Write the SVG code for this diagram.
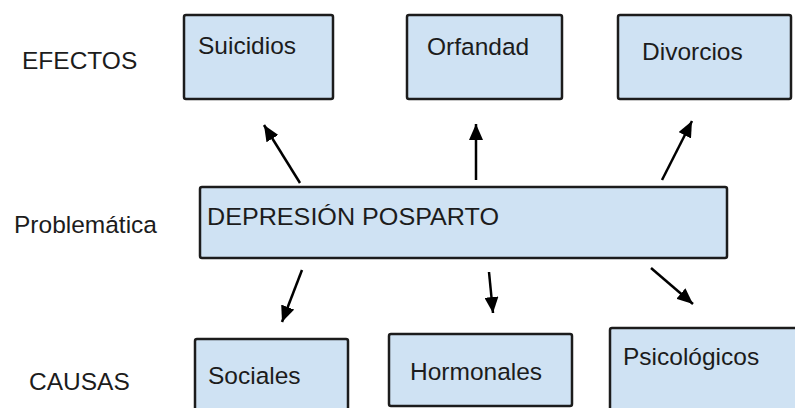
<svg xmlns="http://www.w3.org/2000/svg" width="795" height="408" viewBox="0 0 795 408">
<style>
.box{fill:#cfe2f3;stroke:#1c1c1c;stroke-width:2.5;}
.t{font-family:"Liberation Sans",Arial,sans-serif;font-size:24.5px;fill:#1c1c1c;}
.c{stroke:#000;stroke-width:2.5;fill:none;marker-end:url(#ah);}
</style>
<defs>
<marker id="ah" markerUnits="userSpaceOnUse" viewBox="0 0 16 14" refX="16" refY="7" markerWidth="16" markerHeight="14" orient="auto">
<path d="M0,0 L16,7 L0,14 Z" fill="#000"/>
</marker>
</defs>
<rect width="795" height="408" fill="#fff"/>
<g id="labels">
<text class="t" x="22" y="69">EFECTOS</text>
<text class="t" x="14" y="233">Problemática</text>
<text class="t" x="29" y="390">CAUSAS</text>
</g>
<g id="connectors">
<line class="c" x1="300" y1="183" x2="264" y2="125"/>
<line class="c" x1="476" y1="180" x2="476" y2="124"/>
<line class="c" x1="662" y1="180" x2="692" y2="121"/>
<line class="c" x1="302" y1="270" x2="282" y2="322"/>
<line class="c" x1="489" y1="272" x2="493" y2="313"/>
<line class="c" x1="651" y1="268" x2="693" y2="304"/>
</g>
<g id="suicidios"><rect class="box" x="184" y="15" width="149" height="84" rx="2"/><text class="t" x="198" y="54">Suicidios</text></g>
<g id="orfandad"><rect class="box" x="407" y="15" width="155" height="84" rx="2"/><text class="t" x="427" y="55">Orfandad</text></g>
<g id="divorcios"><rect class="box" x="618" y="15" width="173" height="84" rx="2"/><text class="t" x="642" y="60">Divorcios</text></g>
<g id="depresion"><rect class="box" x="200" y="187" width="527" height="71" rx="2"/><text class="t" x="207" y="225" textLength="292" lengthAdjust="spacingAndGlyphs">DEPRESIÓN POSPARTO</text></g>
<g id="sociales"><rect class="box" x="195" y="339" width="153" height="80" rx="2"/><text class="t" x="208" y="384">Sociales</text></g>
<g id="hormonales"><rect class="box" x="389" y="334" width="183" height="72" rx="2"/><text class="t" x="410" y="380">Hormonales</text></g>
<g id="psicologicos"><rect class="box" x="610" y="328" width="200" height="90" rx="2"/><text class="t" x="623" y="365">Psicológicos</text></g>
</svg>
